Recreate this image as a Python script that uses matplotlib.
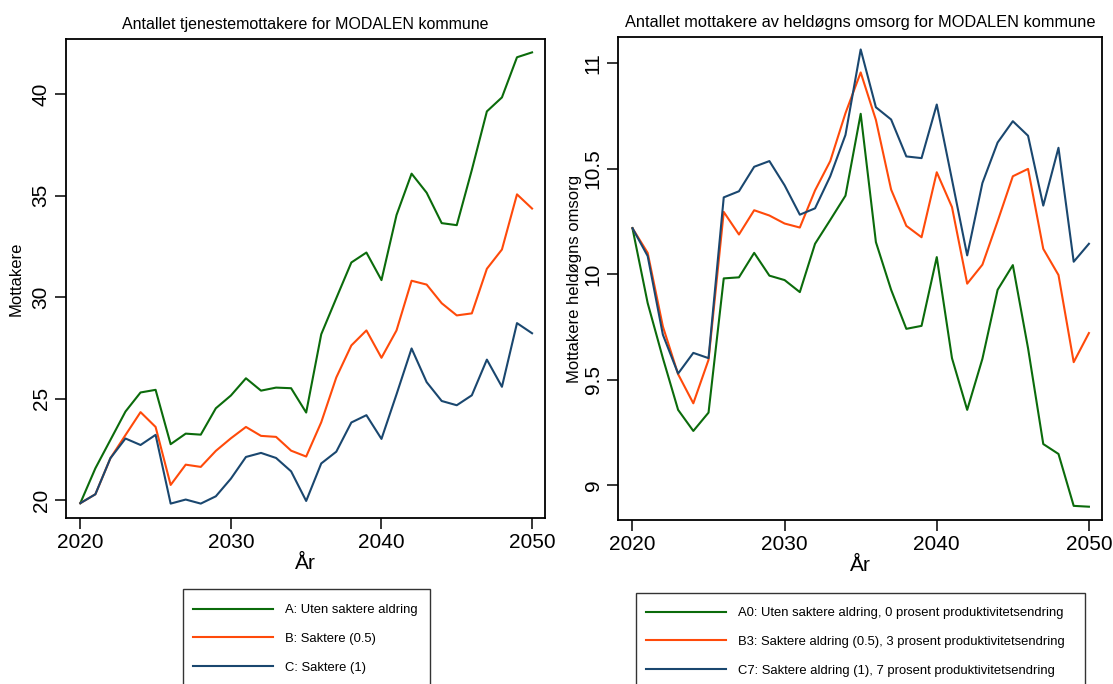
import numpy as np
import matplotlib
matplotlib.use('Agg')
import matplotlib.pyplot as plt
from matplotlib.lines import Line2D
from matplotlib.patches import Rectangle

plt.rcParams['font.family'] = ['Liberation Sans', 'DejaVu Sans']

years = list(range(2020, 2051))

# left panel: tjenestemottakere
tj_A = [19.84, 21.56, 22.96, 24.36, 25.30, 25.43, 22.75, 23.27, 23.22, 24.52,
        25.15, 26.00, 25.39, 25.54, 25.51, 24.31, 28.17, 29.95, 31.71, 32.20,
        30.84, 34.05, 36.09, 35.15, 33.65, 33.55, 36.27, 39.16, 39.85, 41.83, 42.07]
tj_B = [19.84, 20.28, 22.06, 23.20, 24.33, 23.60, 20.74, 21.74, 21.63, 22.42,
        23.04, 23.60, 23.16, 23.11, 22.43, 22.14, 23.83, 26.04, 27.62, 28.36,
        27.01, 28.36, 30.81, 30.62, 29.70, 29.10, 29.20, 31.40, 32.35, 35.07, 34.37]
tj_C = [19.84, 20.28, 22.06, 23.03, 22.71, 23.21, 19.82, 20.02, 19.82, 20.18,
        21.05, 22.12, 22.32, 22.07, 21.41, 19.95, 21.80, 22.38, 23.82, 24.18,
        23.01, 25.21, 27.47, 25.81, 24.88, 24.67, 25.16, 26.92, 25.58, 28.72, 28.22]

# right panel: heldøgns omsorg
hd_A0 = [10.219, 9.864, 9.603, 9.358, 9.258, 9.345, 9.981, 9.986, 10.102, 9.994,
         9.973, 9.916, 10.145, 10.258, 10.373, 10.761, 10.153, 9.927, 9.742, 9.756,
         10.082, 9.603, 9.358, 9.600, 9.927, 10.044, 9.650, 9.196, 9.149, 8.903, 8.899]
hd_B3 = [10.219, 10.102, 9.753, 9.527, 9.389, 9.595, 10.296, 10.189, 10.304, 10.279,
         10.241, 10.222, 10.398, 10.537, 10.764, 10.957, 10.732, 10.402, 10.230, 10.176,
         10.484, 10.319, 9.956, 10.046, 10.252, 10.465, 10.500, 10.121, 9.997, 9.584, 9.722]
hd_C7 = [10.219, 10.087, 9.714, 9.530, 9.628, 9.603, 10.365, 10.394, 10.510, 10.537,
         10.422, 10.283, 10.313, 10.465, 10.661, 11.066, 10.792, 10.734, 10.559, 10.551,
         10.805, 10.449, 10.090, 10.433, 10.625, 10.726, 10.657, 10.326, 10.600, 10.060, 10.145]

labels_left = ['A: Uten saktere aldring', 'B: Saktere (0.5)', 'C: Saktere (1)']
labels_right = ['A0: Uten saktere aldring, 0 prosent produktivitetsendring',
                'B3: Saktere aldring (0.5), 3 prosent produktivitetsendring',
                'C7: Saktere aldring (1), 7 prosent produktivitetsendring']
COLS = ['#0b6b0b', '#ff4a0a', '#1a476f']

W, H = 1113, 684
fig = plt.figure(figsize=(W / 100, H / 100), dpi=100)

def px(x0, y0, x1, y1):
    return [x0 / W, 1 - y1 / H, (x1 - x0) / W, (y1 - y0) / H]

def style(ax, yticks, ytl, title, ylabel, ylx, tsize):
    ax.set_xlim(2019.05, 2050.86)
    ax.set_xticks([2020, 2030, 2040, 2050])
    ax.set_yticks(yticks)
    ax.set_yticklabels(ytl, rotation=90, va='center')
    ax.tick_params(length=8, width=1.1, labelsize=15, pad=3)
    for s in ax.spines.values():
        s.set_linewidth(1.3)
    ax.set_xlabel('År', fontsize=15, labelpad=1)
    ax.set_ylabel(ylabel, fontsize=12)
    ax.yaxis.set_label_coords(ylx, 0.5)
    ax.set_title(title, fontsize=tsize, pad=7)

ax1 = fig.add_axes(px(66, 39, 545, 518))
for ys, c in zip([tj_A, tj_B, tj_C], COLS):
    ax1.plot(years, ys, color=c, lw=1.5)
ax1.set_ylim(19.11, 42.73)
style(ax1, [20, 25, 30, 35, 40], ['20', '25', '30', '35', '40'],
      'Antallet tjenestemottakere for MODALEN kommune', 'Mottakere', -0.088, 11.5)

ax2 = fig.add_axes(px(618, 37, 1102, 520))
for ys, c in zip([hd_A0, hd_B3, hd_C7], COLS):
    ax2.plot(years, ys, color=c, lw=1.5)
ax2.set_ylim(8.836, 11.125)
style(ax2, [9, 9.5, 10, 10.5, 11], ['9', '9.5', '10', '10.5', '11'],
      'Antallet mottakere av heldøgns omsorg for MODALEN kommune',
      'Mottakere heldøgns omsorg', -0.074, 11.8)

# legend boxes run past the bottom edge, as in the original
handles = [Line2D([], [], color=c, lw=1.5) for c in COLS]
for labs, (bx0, by0, bx1), (lx, ly) in [(labels_left, (183, 589, 430), (180, 591)),
                                        (labels_right, (636, 593, 1085), (633, 594))]:
    fig.patches.append(Rectangle((bx0 / W, 1 - 720 / H), (bx1 - bx0) / W, (720 - by0) / H,
                                 transform=fig.transFigure, fill=False,
                                 edgecolor='#333333', lw=1.0))
    fig.legend(handles, labs, loc='upper left', bbox_to_anchor=(lx / W, 1 - ly / H),
               fontsize=9.4, handlelength=6.15, handletextpad=0.92, labelspacing=1.28,
               borderpad=1.0, borderaxespad=0, frameon=False)

fig.savefig('out.png', dpi=100)
